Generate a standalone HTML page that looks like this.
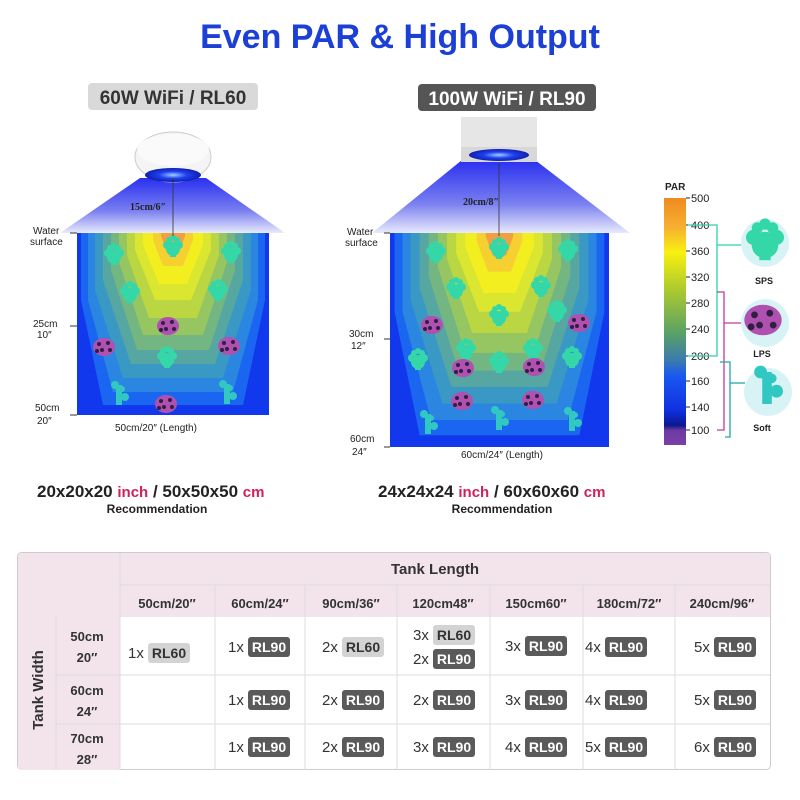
<!DOCTYPE html>
<html><head><meta charset="utf-8"><style>
body{margin:0;background:#fff;}
svg{display:block;font-family:"Liberation Sans",sans-serif;}
</style></head><body>
<svg id="s" width="800" height="800" viewBox="0 0 800 800" xmlns="http://www.w3.org/2000/svg">
<defs>
<linearGradient id="beam" x1="0" y1="0" x2="0" y2="1">
<stop offset="0" stop-color="#2a30f0"/><stop offset="0.6" stop-color="#7a80f0"/><stop offset="1" stop-color="#e8eafc"/>
</linearGradient>
<linearGradient id="par" x1="0" y1="0" x2="0" y2="1">
<stop offset="0" stop-color="#f08a20"/><stop offset="0.12" stop-color="#f6b030"/><stop offset="0.22" stop-color="#f8f010"/>
<stop offset="0.38" stop-color="#a8c830"/><stop offset="0.55" stop-color="#58a068"/><stop offset="0.66" stop-color="#3a7ab0"/>
<stop offset="0.72" stop-color="#1a58f0"/><stop offset="0.86" stop-color="#1030e0"/><stop offset="0.92" stop-color="#0a1890"/>
<stop offset="0.94" stop-color="#6a3aa0"/><stop offset="1" stop-color="#7a40a8"/>
</linearGradient>
<radialGradient id="lamp" cx="0.5" cy="0.5" r="0.5"><stop offset="0" stop-color="#a0d0ff"/><stop offset="0.5" stop-color="#2040f0"/><stop offset="1" stop-color="#1020b0"/></radialGradient>
</defs>
<text x="400" y="48" text-anchor="middle" font-size="34" font-weight="bold" fill="#1c3fd6">Even PAR &amp; High Output</text>
<rect x="88" y="83" width="170" height="27" rx="4" fill="#d9d9d9"/>
<text x="173" y="104" text-anchor="middle" font-size="19" font-weight="bold" fill="#333">60W WiFi / RL60</text>
<rect x="418" y="84" width="178" height="27" rx="4" fill="#555"/>
<text x="507" y="105" text-anchor="middle" font-size="19" font-weight="bold" fill="#fff">100W WiFi / RL90</text>
<!-- beams -->
<polygon points="140,178 206,178 285,233 60,233" fill="url(#beam)"/>
<polygon points="462,160 535,160 630,233 372,233" fill="url(#beam)"/>
<!-- lamps -->
<ellipse cx="173" cy="157" rx="38" ry="25" fill="#f4f4f4" stroke="#ccc"/>
<ellipse cx="173" cy="150" rx="36" ry="16" fill="#fafafa"/>
<ellipse cx="173" cy="175" rx="28" ry="7" fill="url(#lamp)"/>
<rect x="461" y="117" width="76" height="30" fill="#e6e6e6"/>
<rect x="461" y="147" width="76" height="15" fill="#d8d8d8"/>
<ellipse cx="499" cy="155" rx="30" ry="6" fill="url(#lamp)"/>
<g id="tanks"></g>
<line x1="173" y1="178" x2="173" y2="236" stroke="#333" stroke-width="0.8"/>
<line x1="499" y1="163" x2="499" y2="236" stroke="#333" stroke-width="0.8"/>
<text x="130" y="210" font-size="10" font-family="Liberation Serif" font-weight="bold" fill="#222">15cm/6″</text>
<text x="463" y="205" font-size="10" font-family="Liberation Serif" font-weight="bold" fill="#222">20cm/8″</text>
<g font-size="10" fill="#222">
<text x="33" y="234">Water</text><text x="30" y="245">surface</text>
<text x="33" y="327">25cm</text><text x="37" y="338">10″</text>
<text x="35" y="411">50cm</text><text x="37" y="424">20″</text>
<text x="115" y="431">50cm/20″ (Length)</text>
<text x="347" y="235">Water</text><text x="345" y="246">surface</text>
<text x="349" y="337">30cm</text><text x="351" y="349">12″</text>
<text x="350" y="442">60cm</text><text x="352" y="455">24″</text>
<text x="461" y="458">60cm/24″ (Length)</text>
</g>
<line x1="70" y1="233" x2="77" y2="233" stroke="#333"/><line x1="70" y1="326" x2="77" y2="326" stroke="#333"/><line x1="70" y1="415" x2="77" y2="415" stroke="#333"/>
<line x1="384" y1="233" x2="390" y2="233" stroke="#333"/><line x1="384" y1="339" x2="390" y2="339" stroke="#333"/><line x1="384" y1="447" x2="390" y2="447" stroke="#333"/>
<text x="37" y="497" font-size="17" font-weight="bold" fill="#222">20x20x20 <tspan fill="#d0205a" font-size="15">inch</tspan>  /  50x50x50 <tspan fill="#d0205a" font-size="15">cm</tspan></text>
<text x="157" y="513" text-anchor="middle" font-size="12" font-weight="bold" fill="#222">Recommendation</text>
<text x="378" y="497" font-size="17" font-weight="bold" fill="#222">24x24x24 <tspan fill="#d0205a" font-size="15">inch</tspan>  /  60x60x60 <tspan fill="#d0205a" font-size="15">cm</tspan></text>
<text x="502" y="513" text-anchor="middle" font-size="12" font-weight="bold" fill="#222">Recommendation</text>
<!-- PAR -->
<text x="665" y="190" font-size="10" font-weight="bold" fill="#222">PAR</text>
<rect x="664" y="198" width="22" height="247" fill="url(#par)"/>
<g font-size="11" fill="#222" id="parl"></g>
<g stroke="#2fd0a8" stroke-width="1.3" fill="none"><polyline points="688,225 717,225 717,356 688,356"/><line x1="717" y1="245" x2="742" y2="245"/></g>
<g stroke="#c03aa0" stroke-width="1.3" fill="none"><polyline points="717,292 724,292 724,430 717,430"/><line x1="724" y1="323" x2="742" y2="323"/></g>
<g stroke="#20a8a8" stroke-width="1.3" fill="none"><polyline points="720,362 730,362 730,437 725,437"/><line x1="730" y1="383" x2="745" y2="383"/></g>
<circle cx="765" cy="243" r="24" fill="#d8f3f6"/><circle cx="765" cy="323" r="24" fill="#d8f3f6"/><circle cx="768" cy="392" r="24" fill="#d8f3f6"/>
<g id="icons"></g>
<text x="764" y="284" text-anchor="middle" font-size="9" font-weight="bold" fill="#222">SPS</text>
<text x="762" y="357" text-anchor="middle" font-size="9" font-weight="bold" fill="#222">LPS</text>
<text x="762" y="431" text-anchor="middle" font-size="9" font-weight="bold" fill="#222">Soft</text>
<!-- table -->
<rect x="17.5" y="552.5" width="753" height="217" rx="4" fill="#fff" stroke="#ccc"/>
<path d="M21,553 H767 a3,3 0 0 1 3,3 V617 H120 V770 H21 a3,3 0 0 1 -3,-3 V556 a3,3 0 0 1 3,-3 Z" fill="#f3e4ec"/>
<g stroke="#ddd" stroke-width="1">
<line x1="120" y1="585" x2="770" y2="585"/><line x1="56" y1="617" x2="56" y2="770"/>
<line x1="56" y1="675" x2="770" y2="675"/><line x1="56" y1="724" x2="770" y2="724"/>
<line x1="120" y1="553" x2="120" y2="770"/>
<line x1="215" y1="585" x2="215" y2="770"/><line x1="305" y1="585" x2="305" y2="770"/><line x1="397" y1="585" x2="397" y2="770"/>
<line x1="490" y1="585" x2="490" y2="770"/><line x1="583" y1="585" x2="583" y2="770"/><line x1="675" y1="585" x2="675" y2="770"/>
</g>
<text x="435" y="574" text-anchor="middle" font-size="15" font-weight="bold" fill="#333">Tank Length</text>
<g font-size="13" font-weight="bold" fill="#333" text-anchor="middle">
<text x="167" y="608">50cm/20″</text><text x="260" y="608">60cm/24″</text><text x="351" y="608">90cm/36″</text><text x="443" y="608">120cm48″</text>
<text x="536" y="608">150cm60″</text><text x="629" y="608">180cm/72″</text><text x="722" y="608">240cm/96″</text>
<text x="87" y="641">50cm</text><text x="87" y="662">20″</text>
<text x="87" y="695">60cm</text><text x="87" y="716">24″</text>
<text x="87" y="743">70cm</text><text x="87" y="764">28″</text>
</g>
<text transform="translate(43,690) rotate(-90)" text-anchor="middle" font-size="15" font-weight="bold" fill="#333">Tank Width</text>
<g id="cells"></g>
</svg>
<script>
var NS="http://www.w3.org/2000/svg";
function el(p,t,a,txt){var e=document.createElementNS(NS,t);for(var k in a)e.setAttribute(k,a[k]);if(txt!=null)e.textContent=txt;p.appendChild(e);return e;}
var T=document.getElementById("tanks");
var L=[[92,300,70,405,"#1b66f0"],[85,300,60,392,"#2a86e0"],[78,290,50,378,"#3a98c4"],[70,280,42,364,"#56a6a2"],[62,270,36,350,"#74b682"],[54,262,30,335,"#96c662"],[46,255,24,318,"#bad642"],[38,250,18,300,"#dae630"],[30,245,14,284,"#f2ee20"],[20,240,10,266,"#f6d030"],[12,236,6,252,"#f0a040"]];
function tank(x0,y0,w,h){
 el(T,"rect",{x:x0,y:y0,width:w,height:h,fill:"#1238ee"});
 var cx=x0+w/2,sx=w/192,sy=h/182;
 L.forEach(function(l){var wt=l[0]*sx,ys=y0+(l[1]-233)*sy,wb=l[2]*sx,yb=y0+(l[3]-233)*sy;
  el(T,"polygon",{points:[cx-wt,y0,cx+wt,y0,cx+wt,ys,cx+wb,yb,cx-wb,yb,cx-wt,ys].join(","),fill:l[4]});});
}
tank(77,233,192,182);tank(390,233,219,214);
function sps(g,x,y,s){s=s||1;var c="#34d8a8";[[0,0,7],[-6,-4,4],[6,-4,4],[-4,-9,3],[4,-9,3],[0,-11,3]].forEach(function(p){el(g,"circle",{cx:x+p[0]*s,cy:y+p[1]*s,r:p[2]*s,fill:c});});el(g,"rect",{x:x-3*s,y:y,width:6*s,height:8*s,fill:c});}
function lps(g,x,y,s){s=s||1;el(g,"ellipse",{cx:x,cy:y,rx:11*s,ry:9*s,fill:"#b050b0"});[[-5,-3],[4,-4],[-2,3],[6,3],[-7,4]].forEach(function(p){el(g,"circle",{cx:x+p[0]*s,cy:y+p[1]*s,r:2*s,fill:"#302040"});});}
function soft(g,x,y,s){s=s||1;var c="#30c8c0";el(g,"rect",{x:x-3*s,y:y-10*s,width:6*s,height:20*s,fill:c});el(g,"circle",{cx:x-4*s,cy:y-10*s,r:4*s,fill:c});el(g,"circle",{cx:x+6*s,cy:y+2*s,r:4*s,fill:c});el(g,"circle",{cx:x+3*s,cy:y-6*s,r:3*s,fill:c});}
sps(T,173,249);sps(T,114,257);sps(T,231,255);sps(T,130,295);sps(T,218,293);lps(T,168,326);lps(T,104,347);lps(T,229,346);sps(T,167,360);soft(T,119,395);soft(T,227,394);lps(T,166,404);
sps(T,499,251);sps(T,436,255);sps(T,568,253);sps(T,456,291);sps(T,541,289);sps(T,499,318);sps(T,557,314);lps(T,432,325);lps(T,579,323);sps(T,466,352);sps(T,533,352);sps(T,418,362);sps(T,572,360);lps(T,463,368);lps(T,534,367);sps(T,499,365);lps(T,462,401);lps(T,533,400);soft(T,428,424);soft(T,499,420);soft(T,572,421);
var I=document.getElementById("icons");
sps(I,765,245,1.9);lps(I,763,320,1.7);soft(I,767,388,1.6);
var P=document.getElementById("parl");
[[500,202],[400,229],[360,255],[320,281],[280,307],[240,333],[200,360],[160,385],[140,411],[100,434]].forEach(function(p){el(P,"text",{x:691,y:p[1]},String(p[0]));el(P,"line",{x1:686,y1:p[1]-4,x2:690,y2:p[1]-4,stroke:"#222"});});
var C=document.getElementById("cells");
function badge(x,y,n,t,dark){el(C,"text",{x:x,y:y+15,"font-size":"15",fill:"#333"},n+"x");
 el(C,"rect",{x:x+20,y:y,width:42,height:20,rx:3,fill:dark?"#5a5a5a":"#d3d3d3"});
 el(C,"text",{x:x+41,y:y+15,"text-anchor":"middle","font-size":"14","font-weight":"bold",fill:dark?"#fff":"#333"},t);}
badge(128,643,1,"RL60",0);badge(228,637,1,"RL90",1);badge(322,637,2,"RL60",0);badge(413,625,3,"RL60",0);badge(413,649,2,"RL90",1);
badge(505,636,3,"RL90",1);badge(585,637,4,"RL90",1);badge(694,637,5,"RL90",1);
var xs=[228,322,413,505,585,694];
[[1,2,2,3,4,5],[1,2,3,4,5,6]].forEach(function(r,ri){var y=ri?737:690;r.forEach(function(n,i){badge(xs[i],y,n,"RL90",1);});});
</script>
</body></html>
